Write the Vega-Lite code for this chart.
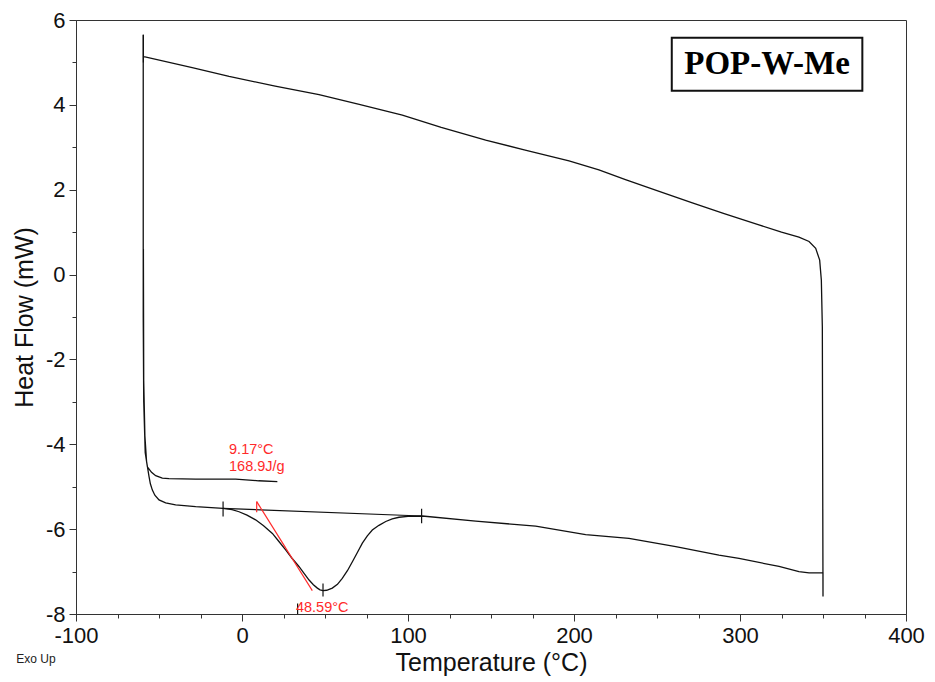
{
  "$schema": "https://vega.github.io/schema/vega-lite/v6.json",
  "width": 830,
  "height": 594,
  "autosize": {"type": "none"},
  "padding": {"left": 76, "top": 20, "right": 29, "bottom": 68},
  "background": "white",
  "config": {
    "view": {"stroke": "#333", "strokeWidth": 1},
    "font": "Liberation Sans"
  },
  "datasets": {
    "trace": [
      {"o": 1, "T": 21.3, "HF": -4.88},
      {"o": 2, "T": 10, "HF": -4.86},
      {"o": 3, "T": -3.8, "HF": -4.82},
      {"o": 4, "T": -27.9, "HF": -4.82},
      {"o": 5, "T": -44, "HF": -4.81},
      {"o": 6, "T": -48, "HF": -4.80},
      {"o": 7, "T": -52, "HF": -4.74},
      {"o": 8, "T": -54.5, "HF": -4.66},
      {"o": 9, "T": -57, "HF": -4.53},
      {"o": 10, "T": -58.3, "HF": -4.2},
      {"o": 11, "T": -59.2, "HF": -3.0},
      {"o": 12, "T": -59.5, "HF": -1.0},
      {"o": 13, "T": -59.5, "HF": 5.65},
      {"o": 14, "T": -59.4, "HF": 5.13},
      {"o": 15, "T": -58.4, "HF": 5.13},
      {"o": 16, "T": -30, "HF": 4.88},
      {"o": 17, "T": -7.8, "HF": 4.67},
      {"o": 18, "T": 20, "HF": 4.44},
      {"o": 19, "T": 46.4, "HF": 4.24},
      {"o": 20, "T": 70, "HF": 4.02},
      {"o": 21, "T": 96.6, "HF": 3.76},
      {"o": 22, "T": 120, "HF": 3.47},
      {"o": 23, "T": 146.8, "HF": 3.17},
      {"o": 24, "T": 170, "HF": 2.94},
      {"o": 25, "T": 197, "HF": 2.68},
      {"o": 26, "T": 215, "HF": 2.47},
      {"o": 27, "T": 231, "HF": 2.24},
      {"o": 28, "T": 250, "HF": 1.98},
      {"o": 29, "T": 271.3, "HF": 1.69},
      {"o": 30, "T": 290, "HF": 1.44},
      {"o": 31, "T": 311.4, "HF": 1.17},
      {"o": 32, "T": 325, "HF": 1.0},
      {"o": 33, "T": 335.5, "HF": 0.88},
      {"o": 34, "T": 341.6, "HF": 0.78},
      {"o": 35, "T": 345.6, "HF": 0.62},
      {"o": 36, "T": 348, "HF": 0.34},
      {"o": 37, "T": 349, "HF": -0.13},
      {"o": 38, "T": 349.6, "HF": -1.23},
      {"o": 39, "T": 350, "HF": -7.59},
      {"o": 40, "T": 350, "HF": -7.03},
      {"o": 41, "T": 341.6, "HF": -7.03},
      {"o": 42, "T": 335.5, "HF": -7.0},
      {"o": 43, "T": 323.5, "HF": -6.88},
      {"o": 44, "T": 299.4, "HF": -6.69},
      {"o": 45, "T": 287.3, "HF": -6.61},
      {"o": 46, "T": 261.3, "HF": -6.41},
      {"o": 47, "T": 233.1, "HF": -6.22},
      {"o": 48, "T": 207, "HF": -6.13},
      {"o": 49, "T": 176.9, "HF": -5.93},
      {"o": 50, "T": 140.8, "HF": -5.81},
      {"o": 51, "T": 108.6, "HF": -5.69},
      {"o": 52, "T": 100, "HF": -5.70},
      {"o": 53, "T": 94.6, "HF": -5.72},
      {"o": 54, "T": 90.5, "HF": -5.76},
      {"o": 55, "T": 86.6, "HF": -5.82},
      {"o": 56, "T": 82.5, "HF": -5.91},
      {"o": 57, "T": 78.5, "HF": -6.02},
      {"o": 58, "T": 75.5, "HF": -6.16},
      {"o": 59, "T": 72.5, "HF": -6.33},
      {"o": 60, "T": 69.5, "HF": -6.55},
      {"o": 61, "T": 66.5, "HF": -6.77},
      {"o": 62, "T": 63.5, "HF": -6.98},
      {"o": 63, "T": 60.4, "HF": -7.16},
      {"o": 64, "T": 57.5, "HF": -7.30},
      {"o": 65, "T": 54.4, "HF": -7.39},
      {"o": 66, "T": 51, "HF": -7.44},
      {"o": 67, "T": 48.8, "HF": -7.45},
      {"o": 68, "T": 47, "HF": -7.43},
      {"o": 69, "T": 45.4, "HF": -7.39},
      {"o": 70, "T": 43, "HF": -7.31},
      {"o": 71, "T": 40.4, "HF": -7.2},
      {"o": 72, "T": 37.5, "HF": -7.05},
      {"o": 73, "T": 34.3, "HF": -6.88},
      {"o": 74, "T": 30, "HF": -6.68},
      {"o": 75, "T": 26.3, "HF": -6.49},
      {"o": 76, "T": 22, "HF": -6.28},
      {"o": 77, "T": 18.3, "HF": -6.1},
      {"o": 78, "T": 13, "HF": -5.92},
      {"o": 79, "T": 8.2, "HF": -5.78},
      {"o": 80, "T": 3, "HF": -5.67},
      {"o": 81, "T": -1.8, "HF": -5.59},
      {"o": 82, "T": -6, "HF": -5.54},
      {"o": 83, "T": -11.4, "HF": -5.51},
      {"o": 84, "T": -27.9, "HF": -5.47},
      {"o": 85, "T": -40, "HF": -5.43},
      {"o": 86, "T": -46, "HF": -5.38},
      {"o": 87, "T": -50, "HF": -5.31},
      {"o": 88, "T": -52.5, "HF": -5.2},
      {"o": 89, "T": -54, "HF": -5.08},
      {"o": 90, "T": -55.2, "HF": -4.93},
      {"o": 91, "T": -56, "HF": -4.76},
      {"o": 92, "T": -57.5, "HF": -4.4},
      {"o": 93, "T": -58.5, "HF": -3.8},
      {"o": 94, "T": -59.2, "HF": -2.5},
      {"o": 95, "T": -59.4, "HF": 0.6}
    ],
    "baseline": [
      {"o": 1, "T": -11.4, "HF": -5.51},
      {"o": 2, "T": 108.2, "HF": -5.69}
    ],
    "blackTicks": [
      {"x": -11.4, "y": -5.35, "y2": -5.7},
      {"x": 108.2, "y": -5.52, "y2": -5.86},
      {"x": 48.8, "y": -7.28, "y2": -7.59},
      {"x": 33.5, "y": -7.75, "y2": -8.0},
      {"x": -59.4, "y": 5.0, "y2": 5.65}
    ],
    "redLines": [
      {"x": 8.85, "y": -5.35, "x2": 42.35, "y2": -7.45},
      {"x": 8.85, "y": -5.35, "x2": 8.85, "y2": -5.6}
    ],
    "redText": [
      {"x": -7.8, "y": -4.13, "t": "9.17°C"},
      {"x": -7.8, "y": -4.53, "t": "168.9J/g"},
      {"x": 32.5, "y": -7.87, "t": "48.59°C"}
    ],
    "box": [
      {"x": 258.9, "x2": 373.7, "y": 5.58, "y2": 4.33, "t": "POP-W-Me", "tx": 316.3, "ty": 4.96}
    ],
    "note": [
      {"x": -136, "y": -9.06, "t": "Exo Up"}
    ]
  },
  "layer": [
    {
      "data": {"name": "trace"},
      "mark": {"type": "line", "color": "#111", "strokeWidth": 1.3},
      "encoding": {
        "x": {
          "field": "T", "type": "quantitative",
          "scale": {"domain": [-100, 400], "nice": false, "zero": false},
          "axis": {
            "title": "Temperature (°C)",
            "values": [-100, -75, -50, -25, 0, 25, 50, 75, 100, 125, 150, 175, 200, 225, 250, 275, 300, 325, 350, 375, 400],
            "labelExpr": "datum.value % 100 === 0 ? toString(datum.value) : ''",
            "tickSize": {"condition": {"test": "datum.value % 100 === 0", "value": 7}, "value": 4},
            "grid": false,
            "domainColor": "#333",
            "tickColor": "#333",
            "labelFont": "Liberation Sans",
            "labelFontSize": 22,
            "labelColor": "#111",
            "labelPadding": 4,
            "labelFlush": false,
            "labelBound": false,
            "labelOverlap": false,
            "titleFont": "Liberation Sans",
            "titleFontSize": 25,
            "titleFontWeight": "normal",
            "titleColor": "#111",
            "titlePadding": 4
          }
        },
        "y": {
          "field": "HF", "type": "quantitative",
          "scale": {"domain": [-8, 6], "nice": false, "zero": false},
          "axis": {
            "title": "Heat Flow (mW)",
            "values": [-8, -7.5, -7, -6.5, -6, -5.5, -5, -4.5, -4, -3.5, -3, -2.5, -2, -1.5, -1, -0.5, 0, 0.5, 1, 1.5, 2, 2.5, 3, 3.5, 4, 4.5, 5, 5.5, 6],
            "labelExpr": "datum.value % 2 === 0 ? toString(datum.value) : ''",
            "tickSize": {"condition": {"test": "datum.value % 2 === 0", "value": 7}, "value": 4},
            "grid": false,
            "domainColor": "#333",
            "tickColor": "#333",
            "labelFont": "Liberation Sans",
            "labelFontSize": 22,
            "labelColor": "#111",
            "labelPadding": 4,
            "labelFlush": false,
            "labelBound": false,
            "labelOverlap": false,
            "titleFont": "Liberation Sans",
            "titleFontSize": 25,
            "titleFontWeight": "normal",
            "titleColor": "#111",
            "titlePadding": 8
          }
        },
        "order": {"field": "o", "type": "quantitative"}
      }
    },
    {
      "data": {"name": "baseline"},
      "mark": {"type": "line", "color": "#111", "strokeWidth": 1.2},
      "encoding": {
        "x": {"field": "T", "type": "quantitative"},
        "y": {"field": "HF", "type": "quantitative"},
        "order": {"field": "o", "type": "quantitative"}
      }
    },
    {
      "data": {"name": "blackTicks"},
      "mark": {"type": "rule", "color": "#111", "strokeWidth": 1.2},
      "encoding": {
        "x": {"field": "x", "type": "quantitative"},
        "y": {"field": "y", "type": "quantitative"},
        "y2": {"field": "y2"}
      }
    },
    {
      "data": {"name": "redLines"},
      "mark": {"type": "rule", "color": "#ff2a2a", "strokeWidth": 1.2},
      "encoding": {
        "x": {"field": "x", "type": "quantitative"},
        "y": {"field": "y", "type": "quantitative"},
        "x2": {"field": "x2"},
        "y2": {"field": "y2"}
      }
    },
    {
      "data": {"name": "redText"},
      "mark": {"type": "text", "color": "#ff2a2a", "font": "Liberation Sans", "fontSize": 14.5, "align": "left", "baseline": "middle"},
      "encoding": {
        "x": {"field": "x", "type": "quantitative"},
        "y": {"field": "y", "type": "quantitative"},
        "text": {"field": "t"}
      }
    },
    {
      "data": {"name": "box"},
      "mark": {"type": "rect", "fill": "white", "stroke": "#111", "strokeWidth": 2},
      "encoding": {
        "x": {"field": "x", "type": "quantitative"},
        "x2": {"field": "x2"},
        "y": {"field": "y", "type": "quantitative"},
        "y2": {"field": "y2"}
      }
    },
    {
      "data": {"name": "box"},
      "mark": {"type": "text", "color": "#000", "font": "Liberation Serif", "fontWeight": "bold", "fontSize": 33, "align": "center", "baseline": "middle"},
      "encoding": {
        "x": {"field": "tx", "type": "quantitative"},
        "y": {"field": "ty", "type": "quantitative"},
        "text": {"field": "t"}
      }
    },
    {
      "data": {"name": "note"},
      "mark": {"type": "text", "color": "#222", "font": "Liberation Sans", "fontSize": 12, "align": "left", "baseline": "middle"},
      "encoding": {
        "x": {"field": "x", "type": "quantitative"},
        "y": {"field": "y", "type": "quantitative"},
        "text": {"field": "t"}
      }
    }
  ]
}
